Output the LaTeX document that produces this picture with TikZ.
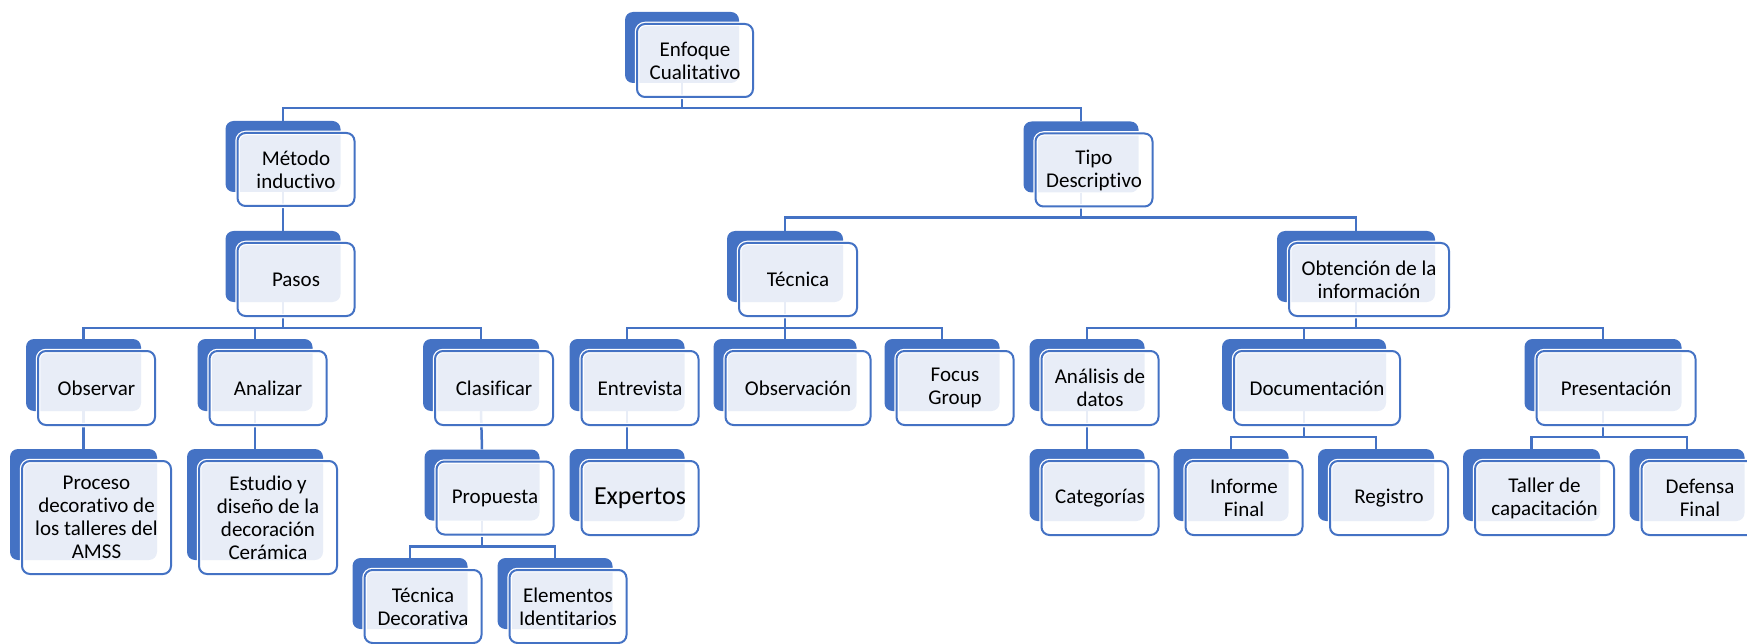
\documentclass[tikz,border=0pt]{standalone}
\usepackage{fontspec}
\setmainfont{Carlito}[Ligatures=NoCommon]
\usetikzlibrary{backgrounds}
\definecolor{accent}{HTML}{4472C4}
% one box = blue back card + light front card with the text
\newcommand{\orgbox}[6]{%
  \node[back, minimum width=#4, minimum height=#5] (#1) at (#2,#3) {};
  \node[front, minimum width=#4+2, minimum height=#5+2] (#1-t) at ([shift={(13,13)}]#1.center) {#6};}
\begin{document}
\begin{tikzpicture}[x=1pt, y=-1pt,
  back/.style={rectangle, rounded corners=8pt, fill=accent, inner sep=0pt},
  front/.style={rectangle, rounded corners=8pt, draw=accent, line width=2pt, fill=white, fill opacity=0.88, text opacity=1, preaction={draw=white, line width=4.5pt}, align=center, inner sep=0pt, font=\fontsize{21}{23}\selectfont},
  link/.style={draw=accent, line width=2.5pt}]
  \useasboundingbox (0,0) rectangle (1747,644);
  % level 0 and 1
  \orgbox{root}{682}{47.5}{114}{71}{Enfoque\\Cualitativo}
  \orgbox{met}{283}{156.5}{115}{71}{Método\\inductivo}
  \orgbox{tipo}{1081}{157}{115}{71}{Tipo\\Descriptivo}
  % level 2
  \orgbox{pasos}{283}{266.5}{115}{71}{Pasos}
  \orgbox{tec}{785}{266.5}{116}{71}{Técnica}
  \orgbox{obt}{1356}{266.5}{158}{71}{Obtención de la\\información}
  % level 3
  \orgbox{obs}{83.5}{375}{115}{72}{Observar}
  \orgbox{ana}{255}{375}{115}{72}{Analizar}
  \orgbox{cla}{481}{375}{116}{72}{Clasificar}
  \orgbox{ent}{627}{375}{115}{72}{Entrevista}
  \orgbox{obv}{785}{375}{143}{72}{Observación}
  \orgbox{foc}{942}{375}{115}{72}{Focus\\Group}
  \orgbox{adat}{1087}{375}{115}{72}{Análisis de\\datos}
  \orgbox{doc}{1304}{375}{164}{72}{Documentación}
  \orgbox{pre}{1603}{375}{157}{72}{Presentación}
  % level 4
  \orgbox{proc}{83.5}{504.5}{147}{111}{Proceso\\decorativo de\\los talleres del\\AMSS}
  \orgbox{est}{255}{504.5}{136}{111}{Estudio y\\diseño de la\\decoración\\Cerámica}
  \orgbox{prop}{482}{485}{115}{71}{Propuesta}
  \orgbox{exp}{627}{485}{115}{72}{\fontsize{26}{28}\selectfont Expertos}
  \orgbox{cat}{1087}{485}{115}{72}{Categorías}
  \orgbox{inf}{1231}{485}{115}{72}{Informe\\Final}
  \orgbox{reg}{1376}{485}{116}{72}{Registro}
  \orgbox{tal}{1531.5}{485}{137}{72}{Taller de\\capacitación}
  \orgbox{def}{1687}{485}{115}{72}{Defensa\\Final}
  % level 5
  \orgbox{tdec}{410}{593.5}{115}{71}{Técnica\\Decorativa}
  \orgbox{elem}{555}{593.5}{115}{71}{Elementos\\Identitarios}
  % connectors
  \begin{scope}[on background layer]
    \draw[link] (root.south) -- ++(0,25) -| (met.north);
    \draw[link] (root.south) -- ++(0,25) -| (tipo.north);
    \draw[link] (met.south) -- (pasos.north);
    \draw[link] (tipo.south) -- ++(0,25) -| (tec.north);
    \draw[link] (tipo.south) -- ++(0,25) -| (obt.north);
    \foreach \c in {obs, ana, cla}
      \draw[link] (pasos.south) -- ++(0,26) -| (\c.north);
    \foreach \c in {ent, obv, foc}
      \draw[link] (tec.south) -- ++(0,26) -| (\c.north);
    \foreach \c in {adat, doc, pre}
      \draw[link] (obt.south) -- ++(0,26) -| (\c.north);
    \draw[link] (obs.south) -- (proc.north);
    \draw[link] (ana.south) -- (est.north);
    \draw[link] (cla.south) -- (prop.north);
    \draw[link] (ent.south) -- (exp.north);
    \draw[link] (adat.south) -- (cat.north);
    \draw[link] (doc.south) -- ++(0,26) -| (inf.north);
    \draw[link] (doc.south) -- ++(0,26) -| (reg.north);
    \draw[link] (pre.south) -- ++(0,26) -| (tal.north);
    \draw[link] (pre.south) -- ++(0,26) -| (def.north);
    \draw[link] (prop.south) -- ++(0,26) -| (tdec.north);
    \draw[link] (prop.south) -- ++(0,26) -| (elem.north);
  \end{scope}
\end{tikzpicture}
\end{document}
